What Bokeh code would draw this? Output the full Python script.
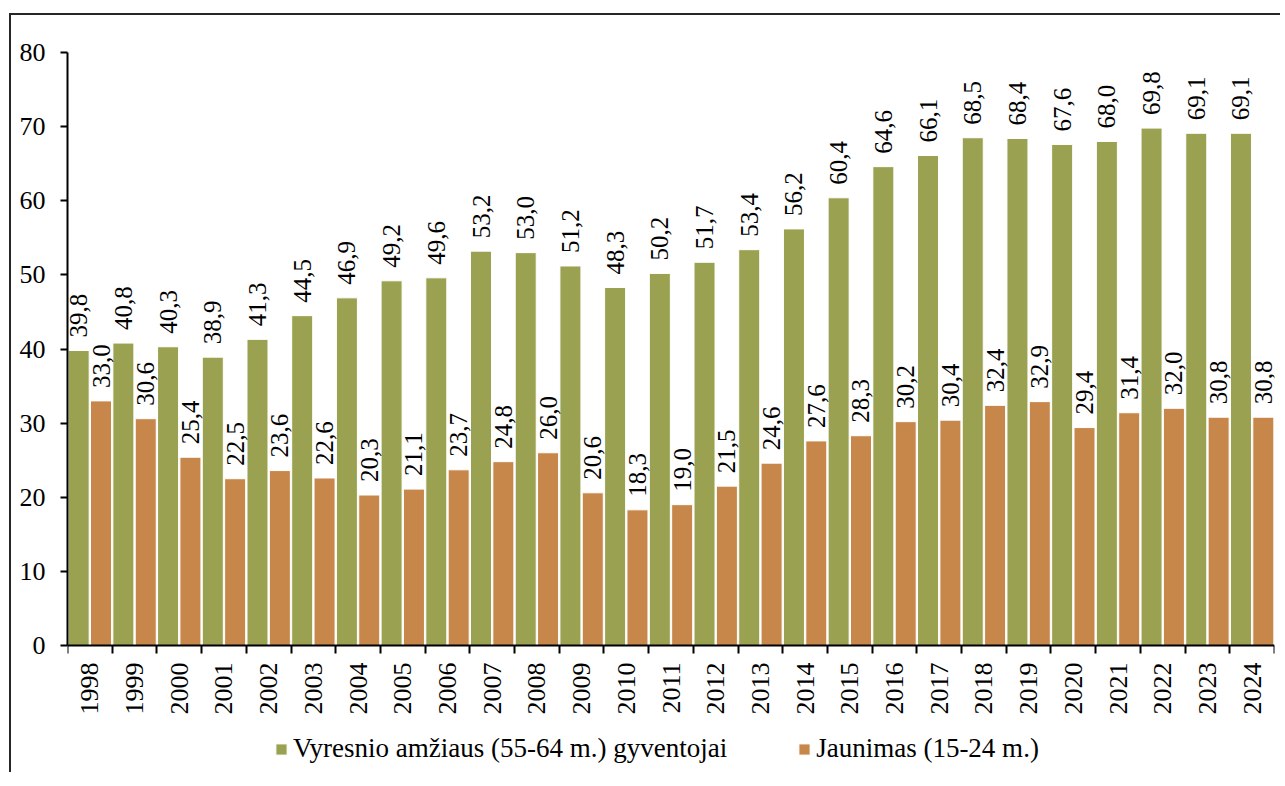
import numpy as np
from bokeh.plotting import figure
from bokeh.models import ColumnDataSource, FixedTicker, Legend, LegendItem
from bokeh.core.properties import value
from bokeh.transform import dodge
from bokeh.embed import file_html
from bokeh.resources import INLINE

years = ["1998", "1999", "2000", "2001", "2002", "2003", "2004", "2005", "2006",
         "2007", "2008", "2009", "2010", "2011", "2012", "2013", "2014", "2015",
         "2016", "2017", "2018", "2019", "2020", "2021", "2022", "2023", "2024"]
older = [39.8, 40.8, 40.3, 38.9, 41.3, 44.5, 46.9, 49.2, 49.6, 53.2, 53.0, 51.2, 48.3,
         50.2, 51.7, 53.4, 56.2, 60.4, 64.6, 66.1, 68.5, 68.4, 67.6, 68.0, 69.8, 69.1, 69.1]
youth = [33.0, 30.6, 25.4, 22.5, 23.6, 22.6, 20.3, 21.1, 23.7, 24.8, 26.0, 20.6, 18.3,
         19.0, 21.5, 24.6, 27.6, 28.3, 30.2, 30.4, 32.4, 32.9, 29.4, 31.4, 32.0, 30.8, 30.8]
series_names = ["Vyresnio amžiaus (55-64 m.) gyventojai", "Jaunimas (15-24 m.)"]
y_ticks = [0, 10, 20, 30, 40, 50, 60, 70, 80]

GREEN = "#9AA150"
ORANGE = "#C7864A"
FONT = "Liberation Serif"
QFONT = value("'Liberation Serif', serif")

idx = np.arange(len(years))
fmt = lambda v: f"{v:.1f}".replace(".", ",")

src = ColumnDataSource(dict(
    x=idx, older=older, youth=youth, year=years,
    older_lbl=[fmt(v) for v in older], youth_lbl=[fmt(v) for v in youth],
))

# frame extended below zero so that the legend area lies inside it
p = figure(frame_width=1207, frame_height=720,
           x_range=(-0.5, len(years) - 0.5), y_range=(-17.133, 80),
           output_backend="svg", toolbar_location=None,
           min_border_left=67, min_border_right=6, min_border_top=52, min_border_bottom=0)
p.border_fill_color = None
p.styles = {
    "background-image": "linear-gradient(#262626,#262626), linear-gradient(#262626,#262626)",
    "background-size": "2px 100%, 100% 2px",
    "background-position": "9px 13px, 9px 13px",
    "background-repeat": "no-repeat",
}

r1 = p.vbar(x=dodge("x", -0.25), top="older", width=0.47, source=src,
            fill_color=GREEN, line_color="white", line_width=1)
r2 = p.vbar(x=dodge("x", 0.25), top="youth", width=0.47, source=src,
            fill_color=ORANGE, line_color="white", line_width=1)

for col, lbl, off in [("older", "older_lbl", -0.25), ("youth", "youth_lbl", 0.25)]:
    p.text(x=dodge("x", off), y=col, text=lbl, source=src, angle=np.pi / 2,
           text_align="left", text_baseline="middle", y_offset=-13,
           text_font=QFONT, text_font_size="25px", text_color="black")

# category labels under the zero line
p.text(x="x", y=0, text="year", source=src, angle=np.pi / 2,
       text_align="right", text_baseline="middle", y_offset=17,
       text_font=QFONT, text_font_size="26px", text_color="black")

p.xgrid.visible = False
p.ygrid.visible = False
p.outline_line_color = None
p.background_fill_color = "white"

xa = p.xaxis[0]
xa.fixed_location = 0
xa.ticker = FixedTicker(ticks=list(idx), minor_ticks=[i - 0.5 for i in range(len(years) + 1)])
xa.major_label_overrides = {int(i): "" for i in idx}
xa.major_label_text_font_size = "0px"
xa.major_label_standoff = 0
xa.major_tick_line_color = None
xa.minor_tick_line_color = "black"
xa.minor_tick_line_width = 2
xa.minor_tick_out = 8
xa.minor_tick_in = 0
xa.axis_line_width = 2
xa.axis_line_color = "black"

ya = p.yaxis[0]
ya.ticker = FixedTicker(ticks=y_ticks)
ya.bounds = (0, 80)
ya.minor_tick_line_color = None
ya.major_tick_line_width = 2
ya.major_tick_out = 7
ya.major_tick_in = 0
ya.axis_line_width = 2
ya.axis_line_color = "black"
ya.major_label_standoff = 15
ya.major_label_text_font = FONT
ya.major_label_text_font_size = "26px"
ya.major_label_text_color = "black"

legend = Legend(items=[LegendItem(label=series_names[0], renderers=[r1]),
                       LegendItem(label=series_names[1], renderers=[r2])],
                location=(207, 8), orientation="horizontal", padding=0, margin=0,
                spacing=70, glyph_width=14, glyph_height=14, label_standoff=5,
                label_text_font=FONT, label_text_font_size="27px",
                label_text_color="black", border_line_color=None,
                background_fill_alpha=0)
p.add_layout(legend, "center")

open("out.html", "w").write(file_html(p, INLINE))
